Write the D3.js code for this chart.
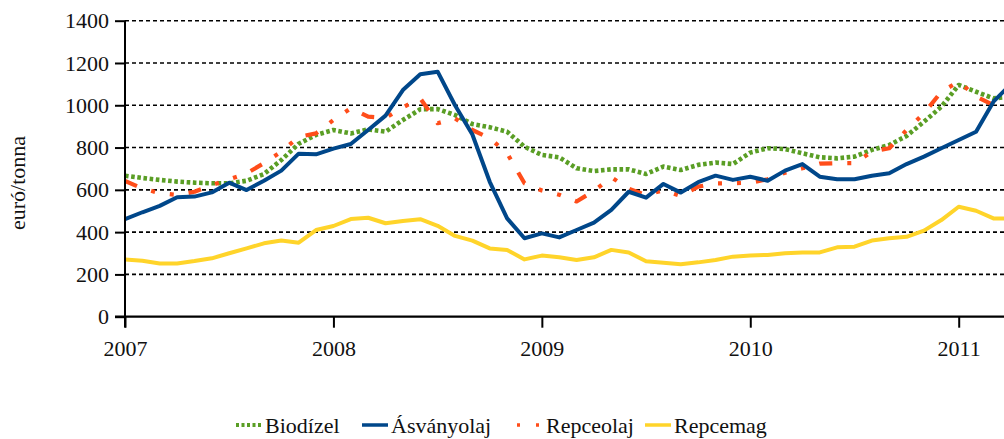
<!DOCTYPE html>
<html>
<head>
<meta charset="utf-8">
<script src="https://cdn.jsdelivr.net/npm/d3@7"></script>
<style>
  body { margin: 0; background: #fff; }
  svg text { font-family: "Liberation Serif", "DejaVu Serif", serif !important; }
</style>
</head>
<body>
<script>
// size of the picture
var w = 1004;
var h = 439;

// monthly data, Jan 2007 .. Apr 2011 (euro / tonne)
const years = ["2007", "2008", "2009", "2010", "2011"];
const yTicks = [0, 200, 400, 600, 800, 1000, 1200, 1400];

const biodizel = [667, 656, 647, 639, 634, 631, 631, 643, 675, 741, 818, 860,
  883, 867, 886, 875, 930, 981, 982, 954, 911, 896, 875, 804,
  765, 754, 702, 689, 697, 697, 675, 710, 694, 718, 729, 722,
  776, 797, 793, 773, 754, 749, 757, 789, 812, 855, 922, 993,
  1096, 1064, 1033, 1040];

const asvanyolaj = [461, 494, 524, 565, 568, 588, 634, 599, 643, 691, 771, 768,
  795, 817, 883, 951, 1072, 1147, 1159, 1000, 862, 638, 465, 371,
  394, 375, 410, 445, 505, 591, 563, 628, 587, 636, 667, 647,
  662, 643, 691, 722, 662, 650, 650, 667, 678, 722, 757, 797,
  836, 875, 1017, 1100];

const repceolaj = [642, 607, 584, 576, 591, 623, 650, 678, 726, 781, 850, 867,
  930, 986, 946, 940, 990, 1033, 915, 938, 883, 844, 773, 631,
  597, 577, 545, 595, 660, 605, 575, 599, 571, 615, 631, 631,
  634, 650, 681, 702, 724, 726, 726, 781, 797, 883, 962, 1064,
  1112, 1041, 1001, 975];

const repcemag = [271, 265, 252, 252, 263, 276, 300, 323, 347, 360, 350, 410,
  429, 462, 468, 442, 453, 461, 430, 382, 360, 323, 316, 271,
  289, 281, 268, 281, 316, 304, 262, 255, 248, 257, 268, 284,
  290, 292, 300, 304, 304, 328, 331, 360, 371, 378, 407, 457,
  520, 501, 465, 465];

const seriesNames = ["Biodízel", "Ásványolaj", "Repceolaj", "Repcemag"];
const seriesData = [biodizel, asvanyolaj, repceolaj, repcemag];
const colors = ["#5a9e25", "#00478a", "#ff4d1a", "#ffd42a"];

const FONT = "Liberation Serif";

// scales - x is month index from Jan 2007
const xScale = d3.scaleLinear()
    .domain([0, 48])
    .range([125, 958.7]);

const yScale = d3.scaleLinear()
    .domain([0, 1400])
    .range([316.7, 20.7]);

const svg = d3.select("body")
    .append("svg")
    .attr("width", w)
    .attr("height", h)
    .attr("font-family", FONT);

svg.append("rect").attr("width", w).attr("height", h).attr("fill", "#fff");

// dotted gridlines
svg.append("g")
    .selectAll("line")
    .data(yTicks.slice(1))
    .enter()
    .append("line")
    .attr("x1", 125)
    .attr("x2", w)
    .attr("y1", d => yScale(d))
    .attr("y2", d => yScale(d))
    .attr("stroke", "#000")
    .attr("stroke-width", 1.6)
    .attr("stroke-dasharray", "4,3");

// lines
const line = d3.line()
    .x((d, i) => xScale(i))
    .y(d => yScale(d));

const dashes = ["3.6,2.6", null, "13,15,4,15,4,15", null];
const widths = [4.6, 4, 4.2, 4];
const order = [0, 2, 1, 3];

svg.append("defs").append("clipPath").attr("id", "clip")
    .append("rect").attr("x", 125).attr("y", 0).attr("width", w - 125).attr("height", h);

const plot = svg.append("g").attr("clip-path", "url(#clip)");

order.forEach(k => {
  plot.append("path")
    .datum(seriesData[k])
    .attr("d", line)
    .attr("fill", "none")
    .attr("stroke", colors[k])
    .attr("stroke-width", widths[k])
    .attr("stroke-linejoin", "round")
    .attr("stroke-dasharray", dashes[k]);
});

// y axis
const yAxis = d3.axisLeft(yScale)
    .tickValues(yTicks)
    .tickFormat(d3.format("d"))
    .tickSize(10)
    .tickPadding(6);

const gy = svg.append("g")
    .attr("transform", "translate(125,0)")
    .call(yAxis)
    .attr("font-family", FONT)
    .attr("font-size", 22);
gy.select(".domain").attr("d", "M0,20.7V327.5").attr("stroke-width", 2);
gy.selectAll(".tick line").attr("stroke-width", 2);
gy.selectAll("text").attr("fill", "#111");

// x axis
const xAxis = d3.axisBottom(xScale)
    .tickValues([0, 12, 24, 36, 48])
    .tickFormat((d, i) => years[i])
    .tickSize(11)
    .tickPadding(13);

const gx = svg.append("g")
    .attr("transform", "translate(0," + yScale(0) + ")")
    .call(xAxis)
    .attr("font-family", FONT)
    .attr("font-size", 22);
gx.select(".domain").attr("d", "M115,0H" + w).attr("stroke-width", 2.2);
gx.selectAll(".tick line").attr("stroke-width", 2);
gx.selectAll("text").attr("fill", "#111");

// y axis title
svg.append("text")
    .attr("transform", "translate(25,183) rotate(-90)")
    .attr("text-anchor", "middle")
    .attr("font-size", 22)
    .attr("fill", "#111")
    .text("euró/tonna");

// legend
const legendX = [236, 362, 517, 645];
const legend = svg.append("g");
seriesNames.forEach((name, k) => {
  const g = legend.append("g").attr("transform", "translate(" + legendX[k] + ",425)");
  g.append("line")
    .attr("x1", 0).attr("x2", k === 2 ? 24 : 26)
    .attr("y1", 0).attr("y2", 0)
    .attr("stroke", colors[k])
    .attr("stroke-width", k === 0 ? 4 : 3.5)
    .attr("stroke-dasharray", k === 0 ? "3,2.5" : (k === 2 ? "3,16,3" : null));
  g.append("text")
    .attr("x", 29)
    .attr("y", 7.5)
    .attr("font-size", 22)
    .attr("fill", "#111")
    .text(name);
});
</script>
</body>
</html>
